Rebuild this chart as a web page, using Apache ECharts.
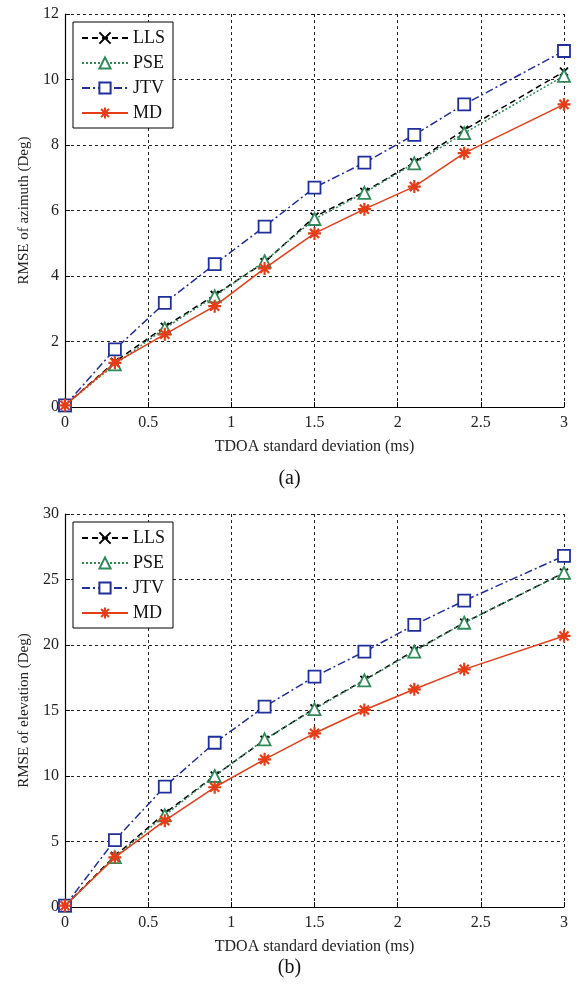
<!DOCTYPE html>
<html>
<head>
<meta charset="utf-8">
<script src="https://cdn.jsdelivr.net/npm/echarts@6/dist/echarts.min.js"></script>
<style>
  html, body { margin: 0; padding: 0; background: #fff; }
  #chart { width: 579px; height: 987px; }
</style>
</head>
<body>
<div id="chart"></div>
<script>
// TDOA standard deviation (ms)
const xs = [0, 0.3, 0.6, 0.9, 1.2, 1.5, 1.8, 2.1, 2.4, 3]

// (a) RMSE of azimuth
const azLLS = [0.05, 1.38, 2.45, 3.42, 4.42, 5.81, 6.57, 7.47, 8.46, 10.24]
const azPSE = [0.05, 1.30, 2.40, 3.38, 4.45, 5.74, 6.54, 7.44, 8.36, 10.11]
const azJTV = [0.05, 1.76, 3.18, 4.36, 5.51, 6.70, 7.46, 8.31, 9.24, 10.87]
const azMD = [0.05, 1.35, 2.22, 3.08, 4.23, 5.30, 6.04, 6.73, 7.75, 9.24]

// (b) RMSE of elevation
const elLLS = [0.1, 3.9, 7.15, 10.03, 12.75, 15.17, 17.33, 19.57, 21.7, 25.52]
const elPSE = [0.1, 3.8, 7.0, 10.0, 12.8, 15.1, 17.3, 19.5, 21.7, 25.5]
const elJTV = [0.1, 5.11, 9.19, 12.54, 15.29, 17.58, 19.49, 21.53, 23.38, 26.8]
const elMD = [0.1, 3.79, 6.59, 9.14, 11.27, 13.26, 15.04, 16.62, 18.14, 20.69]

const names = ['LLS', 'PSE', 'JTV', 'MD']

const font = 'Liberation Serif, Times New Roman, serif'

// 线型和标记
const styles = {
  LLS: { color: '#000000', type: [6, 4], symbol: 'path://M0,0L10,10M10,0L0,10', size: 8, fill: 'none' },
  PSE: { color: '#2e8b57', type: [2, 2], symbol: 'triangle', size: 12, fill: '#ffffff' },
  JTV: { color: '#1f2f9c', type: [8, 3, 2, 3], symbol: 'rect', size: 12, fill: '#ffffff' },
  MD: { color: '#e43d18', type: 'solid', symbol: 'path://M5,0L5,10M0,5L10,5M1.5,1.5L8.5,8.5M8.5,1.5L1.5,8.5', size: 13, fill: 'none' }
}

const zip = (arr) => xs.map((x, i) => [x, arr[i]])

const makeSeries = (name, values, idx) => {
  const s = styles[name]
  return {
    name,
    type: 'line',
    xAxisIndex: idx,
    yAxisIndex: idx,
    data: zip(values),
    symbol: s.symbol,
    symbolSize: s.size,
    showAllSymbol: true,
    lineStyle: { color: s.color, type: s.type, width: 1.5 },
    itemStyle: { color: s.fill, borderColor: s.color, borderWidth: name === 'MD' ? 2.2 : 1.8 },
    emphasis: { disabled: true },
    animation: false,
    z: name === 'MD' ? 5 : 3
  }
}

const makeXAxis = (idx) => ({
  type: 'value',
  gridIndex: idx,
  min: 0,
  max: 3,
  interval: 0.5,
  name: 'TDOA standard deviation (ms)',
  nameLocation: 'middle',
  nameGap: 32,
  nameTextStyle: { fontFamily: font, fontSize: 16, color: '#222' },
  axisLine: { lineStyle: { color: '#000', width: 1.2 } },
  axisTick: { inside: true, length: 5, lineStyle: { color: '#000' } },
  axisLabel: { fontFamily: font, fontSize: 16, color: '#222', margin: 8 },
  splitLine: { show: true, lineStyle: { color: '#222', type: [3, 3], width: 1 } }
})

const makeYAxis = (idx, max, interval, title) => ({
  type: 'value',
  gridIndex: idx,
  min: 0,
  max,
  interval,
  name: title,
  nameLocation: 'middle',
  nameGap: 33,
  nameTextStyle: { fontFamily: font, fontSize: 15, color: '#222' },
  axisLine: { show: true, lineStyle: { color: '#000', width: 1.2 } },
  axisTick: { show: true, inside: true, length: 5, lineStyle: { color: '#000' } },
  axisLabel: { fontFamily: font, fontSize: 16, color: '#222', margin: 6 },
  splitLine: { show: true, lineStyle: { color: '#222', type: [3, 3], width: 1 } }
})

const makeLegend = (top) => ({
  data: names,
  orient: 'vertical',
  left: 73,
  top,
  itemWidth: 46,
  itemHeight: 14,
  itemGap: 7,
  padding: [7, 8, 6, 8],
  borderColor: '#000',
  borderWidth: 1,
  backgroundColor: '#fff',
  textStyle: { fontFamily: font, fontSize: 18, color: '#111' },
  selectedMode: false
})

const option = {
  backgroundColor: '#fff',
  animation: false,
  title: [
    { text: '(a)', left: 'center', top: 469, textStyle: { fontFamily: font, fontSize: 20, fontWeight: 'normal', color: '#111' }, padding: 0 },
    { text: '(b)', left: 'center', top: 958, textStyle: { fontFamily: font, fontSize: 20, fontWeight: 'normal', color: '#111' }, padding: 0 }
  ],
  legend: [makeLegend(22), makeLegend(522)],
  grid: [
    { left: 65, top: 14, width: 499, height: 393 },
    { left: 65, top: 514, width: 499, height: 393 }
  ],
  xAxis: [makeXAxis(0), makeXAxis(1)],
  yAxis: [
    makeYAxis(0, 12, 2, 'RMSE of azimuth (Deg)'),
    makeYAxis(1, 30, 5, 'RMSE of elevation (Deg)')
  ],
  series: [
    makeSeries('LLS', azLLS, 0),
    makeSeries('PSE', azPSE, 0),
    makeSeries('JTV', azJTV, 0),
    makeSeries('MD', azMD, 0),
    makeSeries('LLS', elLLS, 1),
    makeSeries('PSE', elPSE, 1),
    makeSeries('JTV', elJTV, 1),
    makeSeries('MD', elMD, 1)
  ]
}

const chart = echarts.init(document.getElementById('chart'), null, { renderer: 'canvas' })
chart.setOption(option)
</script>
</body>
</html>
